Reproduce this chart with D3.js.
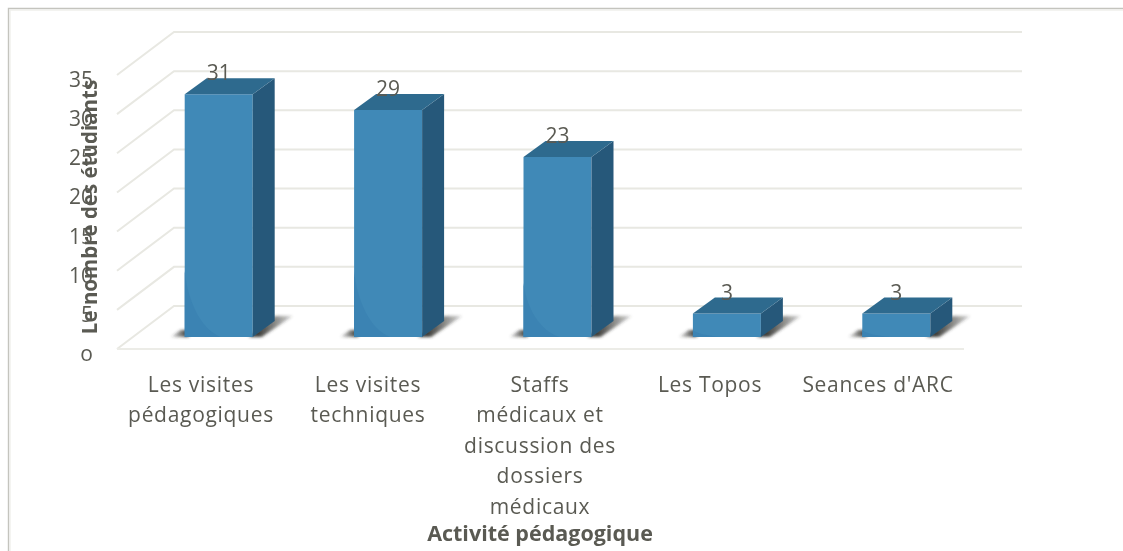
<!DOCTYPE html>
<html><head><meta charset="utf-8">
<script src="https://cdn.jsdelivr.net/npm/d3@7"></script>
<style>html,body{margin:0;padding:0;background:#fff}svg{display:block}text{font-family:"Open Sans",sans-serif;fill:#5a5a52}</style>
</head><body><svg id="c" width="1123" height="551"></svg>
<script>
const categories=[["Les visites","pédagogiques"],["Les visites","techniques"],["Staffs","médicaux et","discussion des","dossiers","médicaux"],["Les Topos"],["Seances d'ARC"]];
const values=[31,29,23,3,3];
const yTicks=[0,5,10,15,20,25,30,35];
const yTitle="Le nombre des étudiants";
const xTitle="Activité pédagogique";

const W=1123,H=551;
const svg=d3.select("#c");
const defs=svg.append("defs");
const soft=defs.append("filter").attr("id","soft").attr("x","-2%").attr("y","-2%").attr("width","104%").attr("height","104%");
soft.append("feGaussianBlur").attr("stdDeviation",0.5);
const shBlur=defs.append("filter").attr("id","sh").attr("filterUnits","userSpaceOnUse")
  .attr("x",-40).attr("y",-50).attr("width",200).attr("height",80);
shBlur.append("feGaussianBlur").attr("stdDeviation",1.6);
const shGrad=defs.append("linearGradient").attr("id","shg").attr("gradientUnits","userSpaceOnUse")
  .attr("x1",72).attr("x2",112).attr("y1",0).attr("y2",0);
shGrad.append("stop").attr("offset","0%").attr("stop-color","#2e2e2a").attr("stop-opacity",.95);
shGrad.append("stop").attr("offset","100%").attr("stop-color","#2e2e2a").attr("stop-opacity",.1);
const shGradL=defs.append("linearGradient").attr("id","shl").attr("gradientUnits","userSpaceOnUse")
  .attr("x1",-14).attr("x2",2).attr("y1",0).attr("y2",0);
shGradL.append("stop").attr("offset","0%").attr("stop-color","#2e2e2a").attr("stop-opacity",.1);
shGradL.append("stop").attr("offset","100%").attr("stop-color","#2e2e2a").attr("stop-opacity",.9);

const root=svg.append("g").attr("filter","url(#soft)");
// outer frame: top and left only
root.append("path").attr("d",`M8.5,${H+4} V8.5 H${W+4}`).attr("fill","none").attr("stroke","#c4c4be").attr("stroke-width",1.4);
root.append("path").attr("d",`M10,${H+4} V10 H${W+4}`).attr("fill","none").attr("stroke","#efefec").attr("stroke-width",1.4);

// scales
const y=d3.scaleLinear().domain([0,35]).range([349,75]);
const x=d3.scaleBand().domain(d3.range(values.length)).range([117,964]);
const depthX=57,depthY=-43;
const barW=68,dx=22,dy=-16,baseShift=-12;
const barCentre=i=>x(i)+x.bandwidth()/2+17;

// gridlines
const grid=root.append("g").attr("fill","none").attr("stroke","#e8e8e2").attr("stroke-width",2);
yTicks.forEach(t=>{
  const p=d3.path();
  p.moveTo(117,y(t));p.lineTo(117+depthX,y(t)+depthY);p.lineTo(964+depthX+1,y(t)+depthY);
  grid.append("path").attr("d",p);
});
root.append("line").attr("x1",117).attr("x2",964).attr("y1",y(0)).attr("y2",y(0)).attr("stroke","#ecece7").attr("stroke-width",2);

// bars
const h=v=>y(0)-y(v);
const bars=root.selectAll("g.bar").data(values).join("g").attr("class","bar")
  .attr("transform",(d,i)=>`translate(${barCentre(i)-barW/2},${y(0)+baseShift})`);
bars.append("polygon").attr("filter","url(#sh)").attr("fill","url(#shg)")
  .attr("points",`${barW-4},0 ${barW+dx},${dy-5} ${barW+dx+18},${dy-5} ${barW+9},0`);
bars.append("polygon").attr("filter","url(#sh)").attr("fill","url(#shl)")
  .attr("points",`-14,0 4,0 4,-7 -4,-7`);
bars.append("polygon").attr("fill","#4089b7")
  .attr("points",d=>`0,0 ${barW},0 ${barW},${-h(d)} 0,${-h(d)}`);
// darker sweep in the lower left of each front face
bars.append("path").attr("fill","#3a83b3")
  .attr("d",d=>{const s=Math.min(66,h(d)*0.3);return `M0,${-s} C3,${-s*0.55} 16,${-s*0.12} ${s<20?30:36},0 L0,0 Z`;});
bars.append("polygon").attr("fill","#28597a")
  .attr("points",d=>`${barW},0 ${barW+dx},${dy} ${barW+dx},${dy-h(d)} ${barW},${-h(d)}`);
bars.append("polygon").attr("fill","#2e6a8e")
  .attr("points",d=>`0,${-h(d)} ${barW},${-h(d)} ${barW+dx},${dy-h(d)} ${dx},${dy-h(d)}`);
bars.append("text").attr("x",barW/2).attr("y",d=>-h(d)-14).attr("text-anchor","middle")
  .attr("font-size",21).text(d=>d);

// y axis labels
const fmtY=t=>t===0?"o":String(t);
root.selectAll("text.yt").data(yTicks).join("text").attr("class","yt")
  .attr("x",93).attr("y",t=>y(t)+12).attr("text-anchor","end").attr("font-size",21).text(fmtY);
root.append("text").attr("transform","translate(97,207) rotate(-90)").attr("text-anchor","middle")
  .attr("font-size",20.5).attr("font-weight",700).text(yTitle);

// category labels
const centres=[201,368,540,710,878];
root.selectAll("g.cat").data(categories).join("g").attr("class","cat").each(function(lines,i){
  d3.select(this).selectAll("text").data(lines).join("text")
    .attr("x",centres[i]).attr("y",(l,j)=>392+j*30.4).attr("text-anchor","middle")
    .attr("font-size",21).attr("letter-spacing",0.7).text(l=>l);
});
root.append("text").attr("x",540).attr("y",541).attr("text-anchor","middle").attr("font-size",21.5).attr("font-weight",700).text(xTitle);
</script></body></html>
